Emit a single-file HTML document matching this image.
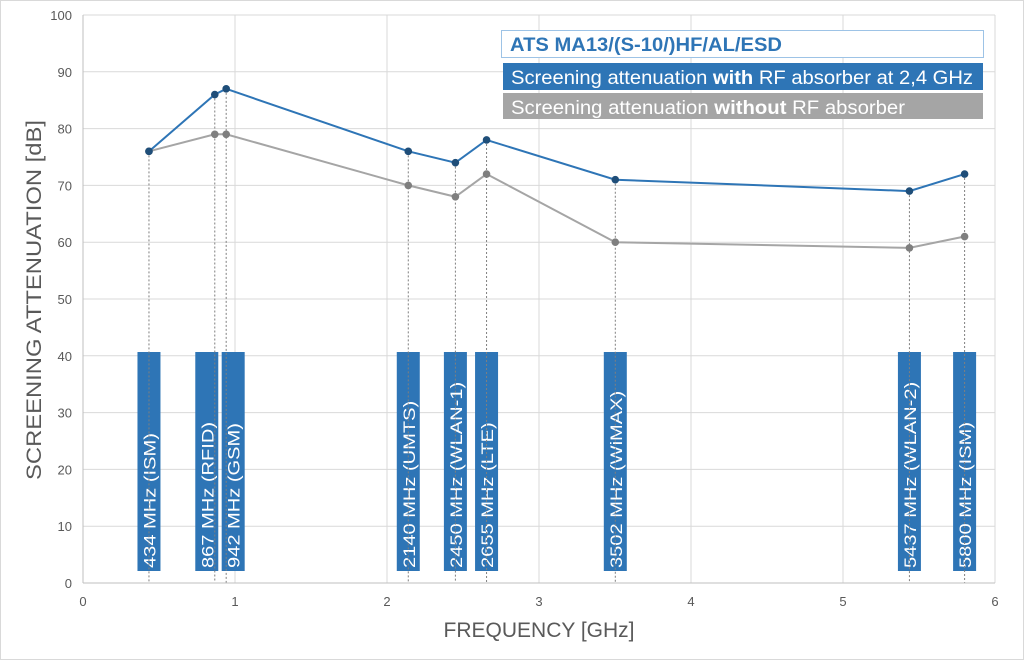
<!DOCTYPE html>
<html><head><meta charset="utf-8"><style>
body{margin:0;background:#fff;}
svg{display:block;font-family:"Liberation Sans",sans-serif;}
</style></head><body>
<svg id="c" width="1024" height="660">
<rect x="0.5" y="0.5" width="1023" height="659" fill="#fff" stroke="#d9d9d9"/>
<g id="grid"></g><g id="bands"></g><g id="drops"></g><g id="series"></g><g id="axes"></g>
<text x="539" y="637" font-size="21" fill="#595959" text-anchor="middle">FREQUENCY [GHz]</text>
<text transform="translate(41,300) rotate(-90)" font-size="21" fill="#595959" text-anchor="middle" textLength="360" lengthAdjust="spacingAndGlyphs">SCREENING ATTENUATION [dB]</text>
<g>
<rect x="501.5" y="30.5" width="482" height="27" fill="#fff" stroke="#9dc3e6"/>
<text x="510" y="51" font-size="19" font-weight="bold" fill="#2e75b6" textLength="272" lengthAdjust="spacingAndGlyphs">ATS MA13/(S-10/)HF/AL/ESD</text>
<rect x="503" y="63" width="480" height="27" fill="#2e75b6"/>
<text x="511" y="84" font-size="19" fill="#fff" textLength="462" lengthAdjust="spacingAndGlyphs">Screening attenuation <tspan font-weight="bold">with</tspan> RF absorber at 2,4 GHz</text>
<rect x="503" y="93" width="480" height="26" fill="#a5a5a5"/>
<text x="511" y="114" font-size="19" fill="#fff" textLength="394" lengthAdjust="spacingAndGlyphs">Screening attenuation <tspan font-weight="bold">without</tspan> RF absorber</text>
</g>
</svg>
<script>
const freqs=[0.434,0.867,0.942,2.140,2.450,2.655,3.502,5.437,5.800];
const withAbs=[76,86,87,76,74,78,71,69,72];
const withoutAbs=[76,79,79,70,68,72,60,59,61];
const bandLabels=["434 MHz (ISM)","867 MHz (RFID)","942 MHz (GSM)","2140 MHz (UMTS)","2450 MHz (WLAN-1)","2655 MHz (LTE)","3502 MHz (WiMAX)","5437 MHz (WLAN-2)","5800 MHz (ISM)"];
const bandShift=[0,-8,7,0,0,0,0,0,0];
const xTicks=[0,1,2,3,4,5,6];
const yTicks=[0,10,20,30,40,50,60,70,80,90,100];
const NS="http://www.w3.org/2000/svg";
const X=v=>83+v*152, Y=v=>583-v*5.68;
function mk(tag,attrs,parent,txt){const e=document.createElementNS(NS,tag);for(const k in attrs)e.setAttribute(k,attrs[k]);if(txt!==undefined)e.textContent=txt;document.getElementById(parent).appendChild(e);return e;}
yTicks.forEach(t=>{
 const l=mk('line',{x1:83,x2:995,y1:Y(t),y2:Y(t),stroke:'#d9d9d9','stroke-width':1},'grid');
 
 
 const s=mk('text',{x:72,y:Y(t)+5,'font-size':13,fill:'#595959','text-anchor':'end'},'axes',t);
 
 
});
xTicks.forEach(t=>{
 const l=mk('line',{x1:X(t),x2:X(t),y1:Y(0),y2:Y(100),stroke:'#d9d9d9','stroke-width':1},'grid');
 
 
 const s=mk('text',{x:X(t),y:606,'font-size':13,fill:'#595959','text-anchor':'middle'},'axes',t);
 
 
});
freqs.forEach((f,i)=>{
 const cx=X(f)+bandShift[i];
 const r=mk('rect',{x:cx-11.5,y:352,width:23,height:219,fill:'#2e75b6'},'bands');
 
 
 const t=mk('text',{transform:`translate(${cx+6.5},568) rotate(-90)`,'font-size':17,fill:'#fff'},'bands',bandLabels[i]);
 
 
 const len=t.getComputedTextLength();
 t.setAttribute('textLength',(len*1.18).toFixed(1));
 t.setAttribute('lengthAdjust','spacingAndGlyphs');
 const d=mk('line',{x1:X(f),x2:X(f),y1:Y(withAbs[i]),y2:Y(0),stroke:'#7f7f7f','stroke-width':1,'stroke-dasharray':'2,2'},'drops');
 
 
});
function series(vals,color,dot,name){
 const p=mk('polyline',{points:freqs.map((f,i)=>X(f)+','+Y(vals[i])).join(' '),fill:'none',stroke:color,'stroke-width':2},'series');
 
 
 freqs.forEach((f,i)=>{
  const c=mk('circle',{cx:X(f),cy:Y(vals[i]),r:3.8,fill:dot},'series');
  
  
 });
}
series(withoutAbs,'#a5a5a5','#7f7f7f','without-absorber');
series(withAbs,'#2e75b6','#1f4e79','with-absorber');
const ax=mk('line',{x1:83,x2:995,y1:Y(0),y2:Y(0),stroke:'#bfbfbf','stroke-width':1},'axes');


const ay=mk('line',{x1:83,x2:83,y1:Y(0),y2:Y(100),stroke:'#bfbfbf','stroke-width':1},'axes');


</script>
</body></html>
